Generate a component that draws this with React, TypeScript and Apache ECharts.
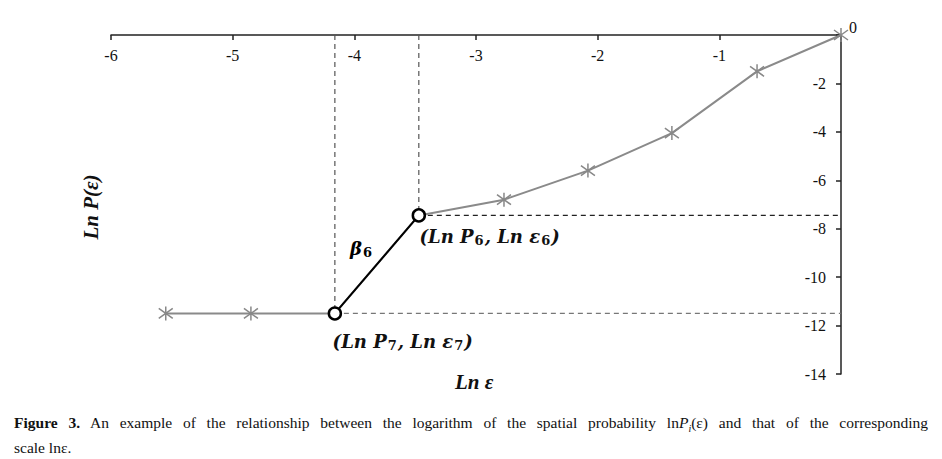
import React, { useEffect, useRef } from "react";
import * as echarts from "echarts";

const lnEps = [-5.55, -4.85, -4.16, -3.47, -2.77, -2.08, -1.39, -0.69, 0];
const lnP = [-11.5, -11.5, -11.5, -7.45, -6.8, -5.6, -4.05, -1.5, 0];
const xTicks = [-6, -5, -4, -3, -2, -1];
const yTicks = [-2, -4, -6, -8, -10, -12, -14];
const i7 = 2;
const i6 = 3;

const STAR = "path://M-5,-5L5,5M-5,5L5,-5M0,-7L0,7";
const serif = "Liberation Serif";
const mathFont = "DejaVu Serif";

export default function App() {
  const ref = useRef<HTMLDivElement>(null);
  useEffect(() => {
    if (!ref.current) return;
    const chart = echarts.init(ref.current, undefined, { renderer: "svg" });
    const pts = lnEps.map((x, i) => [x, lnP[i]]);
    const rich = {
      t: { fontFamily: mathFont, fontWeight: "bold", fontStyle: "italic", fontSize: 18, color: "#111" },
      s: { fontFamily: mathFont, fontWeight: "bold", fontSize: 13, color: "#111", padding: [9, 1, 0, 1] },
    };
    chart.setOption({
      animation: false,
      textStyle: { fontFamily: serif },
      grid: { left: 111, right: 101, top: 35, bottom: 85 },
      xAxis: {
        type: "value",
        position: "top",
        min: -6,
        max: 0,
        interval: 1,
        splitLine: { show: false },
        axisLine: { onZero: false, lineStyle: { color: "#222", width: 1.5 } },
        axisTick: { inside: true, length: 5, lineStyle: { color: "#222", width: 1.5 } },
        axisLabel: {
          inside: true,
          margin: 12,
          fontFamily: serif,
          fontSize: 16,
          color: "#111",
          formatter: (v: number) => (xTicks.includes(v) ? String(v) : ""),
        },
      },
      yAxis: {
        type: "value",
        position: "right",
        min: -14,
        max: 0,
        interval: 2,
        splitLine: { show: false },
        axisLine: { onZero: false, lineStyle: { color: "#222", width: 1.5 } },
        axisTick: { inside: true, length: 5, lineStyle: { color: "#222", width: 1.5 } },
        axisLabel: {
          inside: true,
          margin: 15,
          fontFamily: serif,
          fontSize: 16,
          color: "#111",
          formatter: (v: number) => (yTicks.includes(v) ? String(v) : ""),
        },
      },
      series: [
        {
          type: "line",
          data: [
            [lnEps[i7], 0],
            [lnEps[i7], lnP[i7]],
          ],
          symbol: "none",
          lineStyle: { color: "#555", width: 1.2, type: [5, 4] },
          clip: false,
          z: 1,
        },
        {
          type: "line",
          data: [
            [lnEps[i6], 0],
            [lnEps[i6], lnP[i6]],
          ],
          symbol: "none",
          lineStyle: { color: "#555", width: 1.2, type: [5, 4] },
          clip: false,
          z: 1,
        },
        {
          type: "line",
          data: [
            [lnEps[i6], lnP[i6]],
            [0, lnP[i6]],
          ],
          symbol: "none",
          lineStyle: { color: "#222", width: 1.2, type: [5, 4] },
          clip: false,
          z: 1,
        },
        {
          type: "line",
          data: [
            [lnEps[i7], lnP[i7]],
            [0, lnP[i7]],
          ],
          symbol: "none",
          lineStyle: { color: "#777", width: 1.2, type: [5, 4] },
          clip: false,
          z: 1,
        },
        {
          type: "line",
          data: pts.map((p, i) =>
            i === i6 || i === i7 ? { value: p, symbol: "none" } : { value: p }
          ),
          symbol: STAR,
          symbolSize: 14,
          itemStyle: { color: "none", borderColor: "#888", borderWidth: 1.5 },
          lineStyle: { color: "#8a8a8a", width: 2 },
          clip: false,
          z: 2,
        },
        {
          type: "line",
          data: [
            {
              value: pts[i7],
              label: {
                show: true,
                position: [5, 24],
                align: "left",
                verticalAlign: "top",
                formatter: "{t|(Ln P}{s|7}{t|, Ln ε}{s|7}{t|)}",
                rich,
              },
            },
            {
              value: pts[i6],
              label: {
                show: true,
                position: [8, 17],
                align: "left",
                verticalAlign: "top",
                formatter: "{t|(Ln P}{s|6}{t|, Ln ε}{s|6}{t|)}",
                rich,
              },
            },
          ],
          symbol: "circle",
          symbolSize: 12,
          itemStyle: { color: "#fff", borderColor: "#000", borderWidth: 2.5 },
          lineStyle: { color: "#000", width: 2 },
          clip: false,
          z: 3,
        },
      ],
      graphic: [
        {
          type: "text",
          left: 849,
          top: 19,
          style: { text: "0", fontFamily: serif, fontSize: 16, fill: "#111" },
        },
        {
          type: "text",
          left: 350,
          top: 239,
          style: {
            text: "{t|β}{s|6}",
            rich,
          },
        },
        {
          type: "text",
          left: 455,
          top: 371,
          style: {
            text: "Ln ε",
            fontFamily: serif,
            fontSize: 21,
            fontStyle: "italic",
            fontWeight: "bold",
            fill: "#111",
          },
        },
        {
          type: "text",
          x: 80,
          y: 207,
          rotation: Math.PI / 2,
          style: {
            text: "Ln P(ε)",
            fontFamily: serif,
            fontSize: 21,
            fontStyle: "italic",
            fontWeight: "bold",
            fill: "#111",
            align: "center",
            verticalAlign: "top",
          },
        },
      ],
    });
    return () => chart.dispose();
  }, []);

  return (
    <div style={{ position: "absolute", left: 0, top: 0, width: 942, height: 459, background: "#fff" }}>
      <div ref={ref} style={{ position: "absolute", left: 0, top: 0, width: 942, height: 459 }} />
      <div
        style={{
          position: "absolute",
          left: 14,
          top: 413,
          width: 914,
          fontFamily: "'Liberation Serif', serif",
          fontSize: 15.5,
          lineHeight: "19px",
          color: "#111",
        }}
      >
        <div style={{ textAlign: "justify", textAlignLast: "justify" as any }}>
          <b>Figure 3.</b> An example of the relationship between the logarithm of the spatial probability ln
          <i>P</i>
          <sub style={{ fontSize: 10 }}>
            <i>i</i>
          </sub>
          (ε) and that of the corresponding
        </div>
        <div>scale lnε.</div>
      </div>
    </div>
  );
}
